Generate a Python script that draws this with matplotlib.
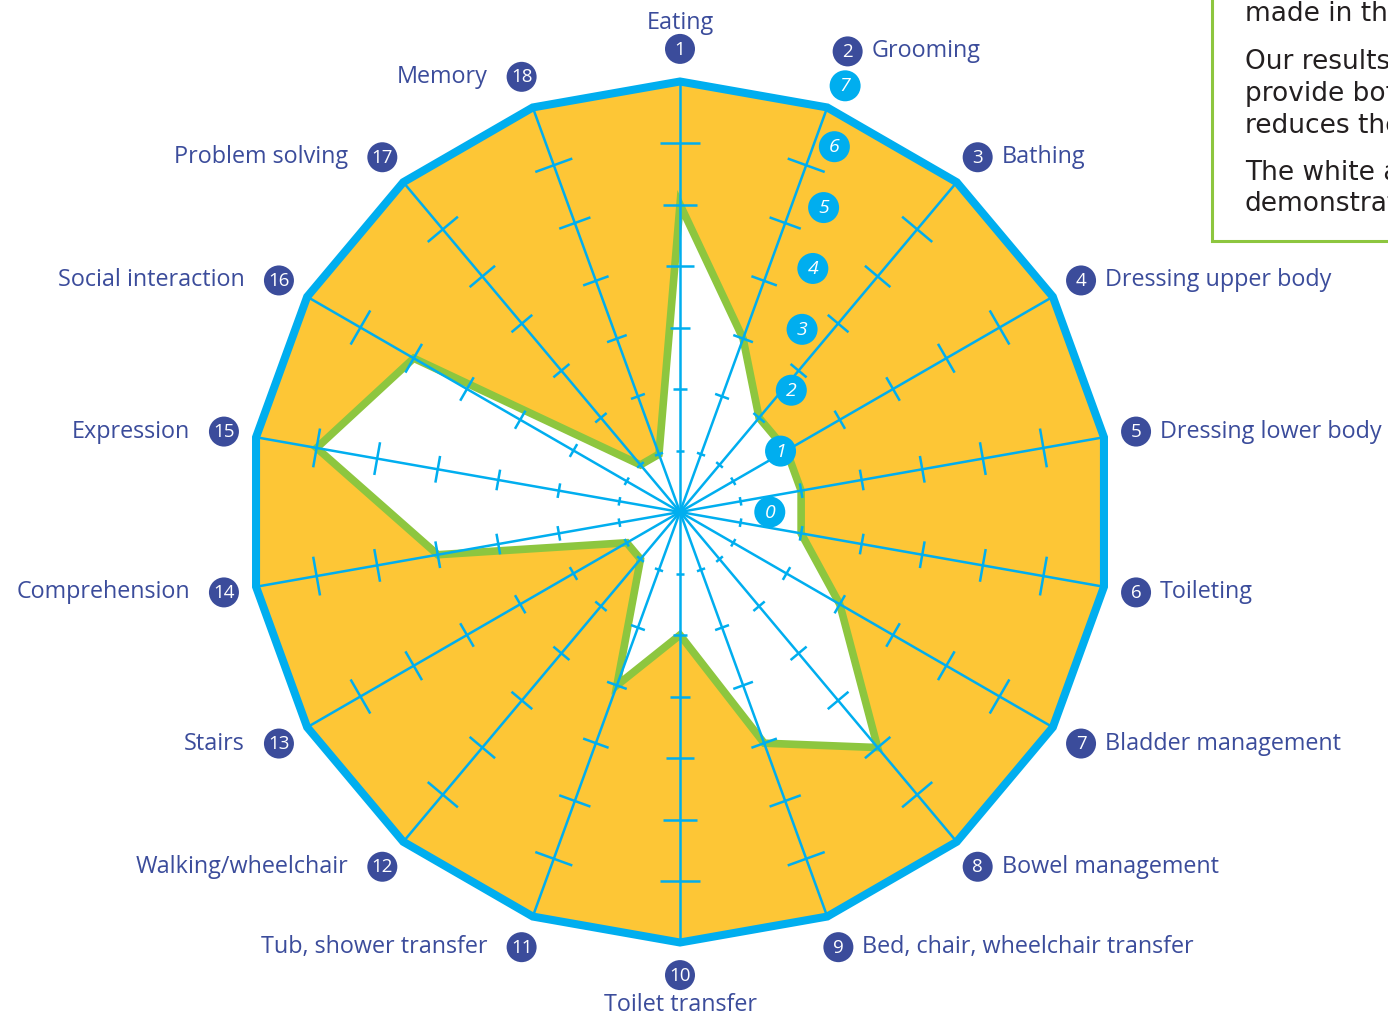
import numpy as np
import matplotlib
matplotlib.use("Agg")
import matplotlib.pyplot as plt
from matplotlib.patches import Polygon, Circle, Rectangle
from matplotlib.collections import LineCollection

# ---------------- data ----------------
categories = ["Eating", "Grooming", "Bathing", "Dressing upper body",
              "Dressing lower body", "Toileting", "Bladder management",
              "Bowel management", "Bed, chair, wheelchair transfer",
              "Toilet transfer", "Tub, shower transfer", "Walking/wheelchair",
              "Stairs", "Comprehension", "Expression", "Social interaction",
              "Problem solving", "Memory"]
scores = [5, 3, 2, 2, 2, 2, 3, 5, 4, 2, 3, 1, 1, 4, 6, 5, 1, 1]
scale_levels = [0, 1, 2, 3, 4, 5, 6, 7]
max_level = 7
box_lines = ["made in the", "Our results show", "provide both", "reduces the",
             "The white area", "demonstrates"]

# ---------------- style ----------------
ORANGE = "#FDC636"
BLUE = "#00AEEF"
GREEN = "#8DC63F"
NAVY = "#3B4C9B"
TEXTC = "#231F20"
FONT = ["Open Sans", "DejaVu Sans"]

W, H = 1388, 1018
CX, CY = 680, 512
U = 61.5  # pixels per level unit


def px(x, y):
    """pixel position -> data coordinates"""
    return (x - CX) / U, (CY - y) / U


fig = plt.figure(figsize=(W / 100, H / 100), dpi=100)
ax = fig.add_axes([0, 0, 1, 1])
ax.set_xlim(-CX / U, (W - CX) / U)
ax.set_ylim(-(H - CY) / U, CY / U)
ax.set_aspect("equal")
ax.axis("off")

n = len(categories)
theta = np.arange(n) * 2 * np.pi / n  # clockwise from north
dx, dy = np.sin(theta), np.cos(theta)

# outer filled polygon
outer = np.column_stack([max_level * dx, max_level * dy])
ax.add_patch(Polygon(outer, closed=True, facecolor=ORANGE, edgecolor="none", zorder=1))

# white inner area
vals = np.array(scores, dtype=float)
inner = np.column_stack([vals * dx, vals * dy])
ax.add_patch(Polygon(inner, closed=True, facecolor="white", edgecolor="none", zorder=2))
ax.add_patch(Polygon(inner, closed=True, facecolor="none", edgecolor=GREEN,
                     linewidth=5.5, joinstyle="miter", zorder=3))

# axes lines
segs = [[(0, 0), (max_level * dx[i], max_level * dy[i])] for i in range(n)]
ax.add_collection(LineCollection(segs, colors=BLUE, linewidths=1.8, zorder=4,
                                 capstyle="butt"))
# tick marks
tsegs = []
for i in range(n):
    for k in range(1, max_level):
        half = 0.05 * k + 0.02
        px_, py_ = k * dx[i], k * dy[i]
        nx, ny = dy[i], -dx[i]
        tsegs.append([(px_ - half * nx, py_ - half * ny), (px_ + half * nx, py_ + half * ny)])
ax.add_collection(LineCollection(tsegs, colors=BLUE, linewidths=1.8, zorder=4))

# outer border
ax.add_patch(Polygon(outer, closed=True, facecolor="none", edgecolor=BLUE,
                     linewidth=5.8, joinstyle="miter", zorder=5))

# category labels with numbered circles
lab_r = np.full(n, 7.53)
lab_r[1] = 7.97
cr = 15 / U
LFS = 16.8
for i, name in enumerate(categories):
    x, y = lab_r[i] * dx[i], lab_r[i] * dy[i]
    ax.add_patch(Circle((x, y), cr, facecolor=NAVY, edgecolor="none", zorder=6))
    ax.text(x, y - 0.01, str(i + 1), color="white", fontsize=13.5, family=FONT,
            ha="center", va="center", zorder=7)
    if i == 0:
        ax.text(x, y + 26 / U, name, color=NAVY, fontsize=LFS, family=FONT,
                ha="center", va="center", zorder=7)
    elif i == n // 2:
        ax.text(x, y - 30 / U, name, color=NAVY, fontsize=LFS, family=FONT,
                ha="center", va="center", zorder=7)
    elif i < n // 2:
        ax.text(x + 24 / U, y, name, color=NAVY, fontsize=LFS, family=FONT,
                ha="left", va="center", zorder=7)
    else:
        ax.text(x - 34 / U, y, name, color=NAVY, fontsize=LFS, family=FONT,
                ha="right", va="center", zorder=7)

# scale labels (cyan circles)
for k in scale_levels:
    x, y = 1.46 + 0.175 * k, 0.99 * k
    ax.add_patch(Circle((x, y), 15.5 / U, facecolor=BLUE, edgecolor="none", zorder=6))
    ax.text(x, y - 0.01, str(k), color="white", fontsize=14, family=FONT,
            style="italic", ha="center", va="center", zorder=7)

# partial text box at top right
bx0, by0 = px(1212, 241)
bx1, by1 = px(1500, -20)
ax.add_patch(Rectangle((bx0, by0), bx1 - bx0, by1 - by0, facecolor="white",
                       edgecolor=GREEN, linewidth=2.2, zorder=8, clip_on=False))
line_y = [14, 62, 94, 126, 173, 204]
for txt, yy in zip(box_lines, line_y):
    tx, ty = px(1245, yy)
    ax.text(tx, ty, txt, color=TEXTC, fontsize=19, family=["DejaVu Sans"],
            ha="left", va="center", zorder=9)

fig.savefig("out.png", dpi=100)
